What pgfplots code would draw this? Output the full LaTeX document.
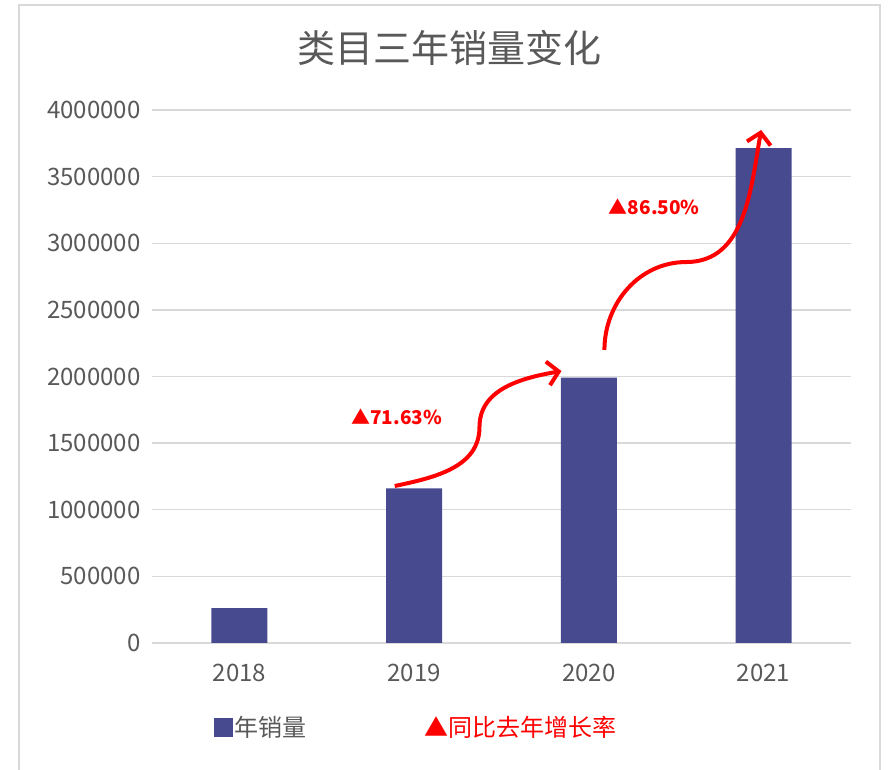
\documentclass[border=0pt]{standalone}
\usepackage{pgfplots}
\pgfplotsset{compat=1.18}
\usepackage{fontspec}
\setmainfont{Noto Sans CJK SC}
\usetikzlibrary{arrows.meta}
\definecolor{barc}{RGB}{72,74,143}
\definecolor{gridc}{RGB}{217,217,217}
\definecolor{txtc}{RGB}{89,89,89}
\begin{document}
\begin{tikzpicture}[x=1pt,y=1pt]
\useasboundingbox (0,0) rectangle (892,770);
\draw[gridc, line width=2pt] (19,0) -- (19,765) -- (880,765) -- (880,0);
\begin{axis}[
  at={(152pt,127pt)}, anchor=south west,
  scale only axis, width=699pt, height=533pt,
  xmin=-0.5, xmax=3.5, ymin=0, ymax=4000000,
  xtick={0,1,2,3}, xticklabels={2018,2019,2020,2021},
  ytick={0,500000,1000000,1500000,2000000,2500000,3000000,3500000,4000000},
  scaled y ticks=false,
  yticklabel style={/pgf/number format/fixed, /pgf/number format/1000 sep={}},
  /pgf/number format/assume math mode=true,
  ymajorgrids, grid style={gridc, line width=1.3pt},
  axis line style={draw=none},
  major tick length=0pt,
  ticklabel style={font=\fontsize{24}{28}\selectfont, text=txtc},
  yticklabel style={xshift=-8pt},
  xticklabel style={yshift=-18pt},
  title={类目三年销量变化},
  title style={at={(0.426,1.105)}, anchor=center, font=\fontsize{38}{46}\selectfont, text=txtc},
  legend columns=2,
  legend style={at={(0.378,-0.158)}, anchor=center, draw=none, fill=none,
    font=\fontsize{24}{28}\selectfont, text=txtc,
    /tikz/every even column/.append style={column sep=144pt}},
  legend image code/.code={\fill[#1] (-2pt,-9.5pt) rectangle (17pt,9.5pt);},
]
\addplot[ybar, bar width=56pt, fill=barc, draw=none] coordinates {(0,262000) (1,1160000) (2,1991000) (3,3713000)};
\addlegendentry{年销量}
\addlegendimage{empty legend}
\addlegendentry{\hspace{-30pt}\textcolor{red}{▲同比去年增长率}}
\draw[red, line width=4pt, -{Straight Barb[length=11pt,width=24pt,line width=4pt]}]
  (axis cs:0.889,1178000) to[out=12,in=-90] (axis cs:1.374,1621000)
  to[out=90,in=190] (axis cs:1.843,2041000);
\draw[red, line width=4pt, -{Straight Barb[length=11pt,width=24pt,line width=4pt]}]
  (axis cs:2.089,2199000) to[out=90,in=180] (axis cs:2.557,2859000)
  to[out=0,in=-100] (axis cs:2.986,3850000);
\node[red, font=\bfseries\fontsize{19}{22}\selectfont] at (axis cs:0.9,1700000) {▲71.63\%};
\node[red, font=\bfseries\fontsize{19}{22}\selectfont] at (axis cs:2.374,3270000) {▲86.50\%};
\end{axis}
\end{tikzpicture}
\end{document}
